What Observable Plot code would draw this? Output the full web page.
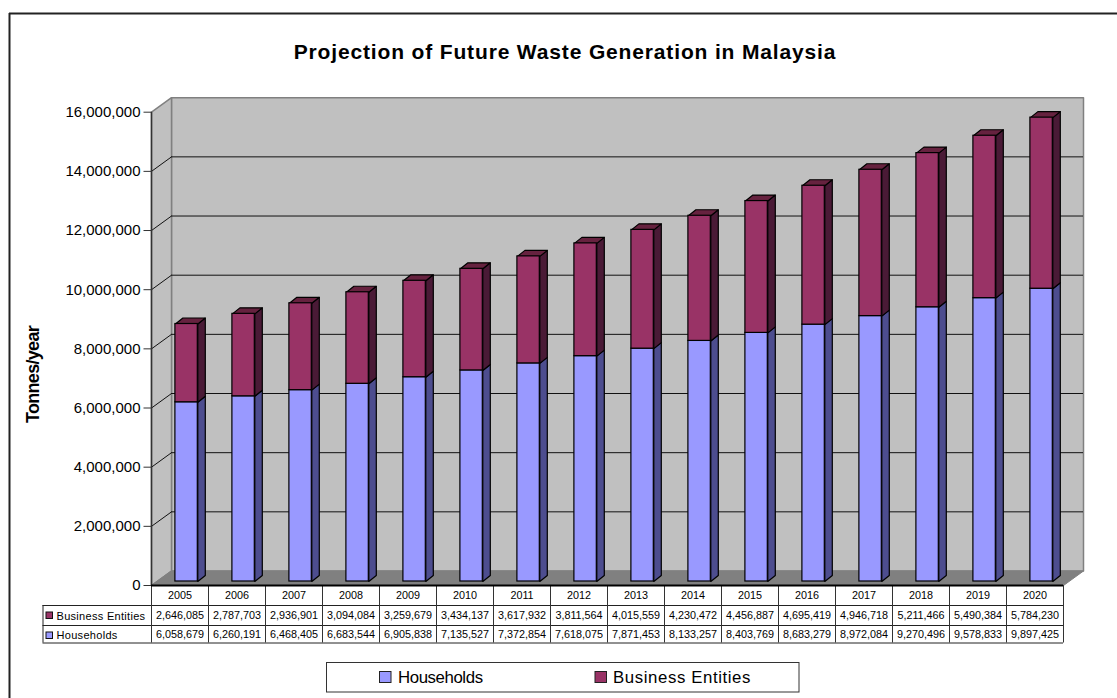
<!DOCTYPE html>
<html>
<head>
<meta charset="utf-8">
<script src="https://cdn.jsdelivr.net/npm/d3@7"></script>
<script src="https://cdn.jsdelivr.net/npm/@observablehq/plot@0.6"></script>
<style>
html,body{margin:0;padding:0;background:#fff;overflow:hidden}
svg{display:block}
</style>
</head>
<body>
<div id="chart"></div>
<script>
const years = [2005,2006,2007,2008,2009,2010,2011,2012,2013,2014,2015,2016,2017,2018,2019,2020];
const households = [6058679,6260191,6468405,6683544,6905838,7135527,7372854,7618075,7871453,8133257,8403769,8683279,8972084,9270496,9578833,9897425];
const business = [2646085,2787703,2936901,3094084,3259679,3434137,3617932,3811564,4015559,4230472,4456887,4695419,4946718,5211466,5490384,5784230];
const yTicks = [0,2000000,4000000,6000000,8000000,10000000,12000000,14000000,16000000];
const title = "Projection of Future Waste Generation in Malaysia";
const yLabel = "Tonnes/year";
const seriesNames = ["Households","Business Entities"];
const seriesColors = ["#9999ff","#993366"];
const sideColors = ["#4d4d8f","#4a1a36"];
const topColor = "#66223f";

const FONT = '"Liberation Sans", Arial, sans-serif';
const fmt = d3.format(",");

// layout
const W = 1117, H = 698;
const left = 151, right = 1063, top0 = 111.7, zero = 585;
const pxPerYear = (right - left) / years.length;
const pxPerUnit = (zero - top0) / 16000000;
// pixel position -> scale value helpers (furniture only)
const X = p => 2004.5 + (p - left) / pxPerYear;
const Y = p => (zero - p) / pxPerUnit;
const wallDx = 20 / pxPerYear, wallDy = 14.5 / pxPerUnit;
const barHalf = 11.2 / pxPerYear, barDx = 7.5 / pxPerYear, barDy = 6 / pxPerUnit;
const barShiftX = 6.6, barShiftY = -4;

// stacked data
const segs = [];
years.forEach((year,i)=>{
  segs.push({year,s:0,y1:0,y2:households[i]});
  segs.push({year,s:1,y1:households[i],y2:households[i]+business[i]});
});
const sidePoly = segs.flatMap((d,i)=>{
  const a=d.year+barHalf,b=a+barDx;
  return [[a,d.y1],[b,d.y1+barDy],[b,d.y2+barDy],[a,d.y2]].map(([x,y])=>({id:i,s:d.s,x,y}));
});
const topPoly = segs.filter(d=>d.s===1).flatMap((d,i)=>{
  const a=d.year-barHalf,b=d.year+barHalf;
  return [[a,d.y2],[b,d.y2],[b+barDx,d.y2+barDy],[a+barDx,d.y2+barDy]].map(([x,y])=>({id:i,x,y}));
});
const poly = (pts)=>pts.map(([x,y])=>({x,y}));
const wallBack = poly([[X(left)+wallDx,wallDy],[X(right)+wallDx,wallDy],[X(right)+wallDx,16000000+wallDy],[X(left)+wallDx,16000000+wallDy]]);
const wallLeft = poly([[X(left),0],[X(left)+wallDx,wallDy],[X(left)+wallDx,16000000+wallDy],[X(left),16000000]]);
const floor = poly([[X(left),0],[X(right),0],[X(right)+wallDx,wallDy],[X(left)+wallDx,wallDy]]);

const closed = (data,fill,stroke,sw,extra={}) => Plot.line(data,{x:"x",y:"y",fill,stroke,strokeWidth:sw,curve:"linear-closed",...extra});
const spaced = ls => (i,s,v,d,c,next)=>{const g=next(i,s,v,d,c);g.setAttribute("letter-spacing",ls);return g;};

// table
const rowTop = Y(585), rowYear = Y(605), rowA = Y(625), rowB = Y(642.5);
const tableLeft = X(42.5);
const colEdges = d3.range(0,years.length+1).map(i=>2004.5+i);

const bar = {dx:barShiftX,dy:barShiftY};

const plot = Plot.plot({
  width:W,height:H,
  marginLeft:left,marginRight:W-right,marginTop:top0,marginBottom:H-zero,
  style:{fontFamily:FONT,background:"#fff",color:"#000",overflow:"visible"},
  x:{type:"linear",domain:[2004.5,2020.5],range:[left,right],axis:null},
  y:{type:"linear",domain:[0,16000000],range:[zero,top0],axis:null},
  marks:[
    // outer frame (top and left only; the rest is cropped)
    Plot.ruleY([Y(13)],{x1:X(9),x2:X(W),stroke:"#222",strokeWidth:2}),
    Plot.ruleX([X(9)],{y1:Y(13),y2:Y(H),stroke:"#222",strokeWidth:2}),
    // walls
    closed(wallBack,"#c0c0c0","#808080",1.5),
    closed(wallLeft,"#c0c0c0","#808080",1.5),
    closed(floor,"#808080","#808080",1),
    Plot.ruleY(yTicks.slice(1,-1),{x1:X(left)+wallDx,x2:X(right)+wallDx,y:d=>d+wallDy,stroke:"#111",strokeWidth:1}),
    Plot.link(yTicks.slice(1,-1),{x1:X(left),x2:X(left)+wallDx,y1:d=>d,y2:d=>d+wallDy,stroke:"#111",strokeWidth:1}),
    Plot.ruleX([X(left)],{y1:0,y2:16000000,stroke:"#333",strokeWidth:1.5}),
    // bars
    closed(sidePoly.filter(d=>d.s===0),sideColors[0],"#000",1.2,{z:"id",...bar}),
    closed(sidePoly.filter(d=>d.s===1),sideColors[1],"#000",1.2,{z:"id",...bar}),
    closed(topPoly,topColor,"#000",1.2,{z:"id",...bar}),
    Plot.rect(segs,{x1:d=>d.year-barHalf,x2:d=>d.year+barHalf,y1:"y1",y2:"y2",fill:d=>seriesColors[d.s],stroke:"#000",strokeWidth:1.2,...bar}),
    // y axis
    Plot.axisY(yTicks,{anchor:"left",tickSize:7.5,tickPadding:3.5,tickFormat:fmt,fontSize:15,stroke:"#333",label:null}),
    // table
    Plot.rect([0],{x1:tableLeft,x2:X(left),y1:rowYear,y2:rowB,fill:"#fff"}),
    Plot.rect([0],{x1:X(left),x2:X(right),y1:rowTop,y2:rowB,fill:"#fff"}),
    Plot.ruleY([rowYear,rowA,rowB],{x1:tableLeft,x2:X(right),stroke:"#222",strokeWidth:1}),
    Plot.ruleX(colEdges,{y1:rowTop,y2:rowB,stroke:"#333",strokeWidth:1}),
    Plot.ruleX([tableLeft],{y1:rowYear,y2:rowB,stroke:"#222",strokeWidth:1}),
    Plot.ruleY([0],{x1:X(left),x2:X(right),stroke:"#000",strokeWidth:2}),
    Plot.text(years,{x:d=>d,y:Y(595.5),text:d=>String(d),fontSize:10.8,fill:"#000"}),
    Plot.text(business,{x:(d,i)=>years[i],y:Y(615),text:d=>fmt(d),fontSize:10.8,fill:"#000"}),
    Plot.text(households,{x:(d,i)=>years[i],y:Y(634),text:d=>fmt(d),fontSize:10.8,fill:"#000"}),
    Plot.text([seriesNames[1]],{x:X(56),y:Y(615.5),text:d=>d,textAnchor:"start",fontSize:11,fill:"#000",render:spaced("0.3px")}),
    Plot.text([seriesNames[0]],{x:X(56),y:Y(635),text:d=>d,textAnchor:"start",fontSize:11,fill:"#000",render:spaced("0.3px")}),
    Plot.rect([0],{x1:X(46),x2:X(52.5),y1:Y(612),y2:Y(618.5),fill:seriesColors[1],stroke:"#111"}),
    Plot.rect([0],{x1:X(46),x2:X(52.5),y1:Y(632),y2:Y(638.5),fill:seriesColors[0],stroke:"#111"}),
    // legend
    Plot.rect([0],{x1:X(326.5),x2:X(799),y1:Y(662.5),y2:Y(692),fill:"#fff",stroke:"#333",strokeWidth:1}),
    Plot.rect([0],{x1:X(379.5),x2:X(391),y1:Y(671.5),y2:Y(682.5),fill:seriesColors[0],stroke:"#222",strokeWidth:1}),
    Plot.rect([0],{x1:X(595),x2:X(606.5),y1:Y(671.5),y2:Y(682.5),fill:seriesColors[1],stroke:"#222",strokeWidth:1}),
    Plot.text([seriesNames[0]],{x:X(397.5),y:Y(677),text:d=>d,textAnchor:"start",fontSize:16.8,fill:"#000",render:spaced("-0.4px")}),
    Plot.text([seriesNames[1]],{x:X(612.5),y:Y(677),text:d=>d,textAnchor:"start",fontSize:16.8,fill:"#000",render:spaced("0.6px")}),
    // titles
    Plot.text([title],{x:X(564.5),y:Y(51.8),text:d=>d,fontSize:21,fontWeight:"bold",fill:"#000",render:spaced("0.85px")}),
    Plot.text([yLabel],{x:X(33),y:Y(374),text:d=>d,rotate:-90,fontSize:18,fontWeight:"bold",fill:"#000",render:spaced("-0.7px")})
  ]
});
document.getElementById("chart").appendChild(plot);
</script>
</body>
</html>
